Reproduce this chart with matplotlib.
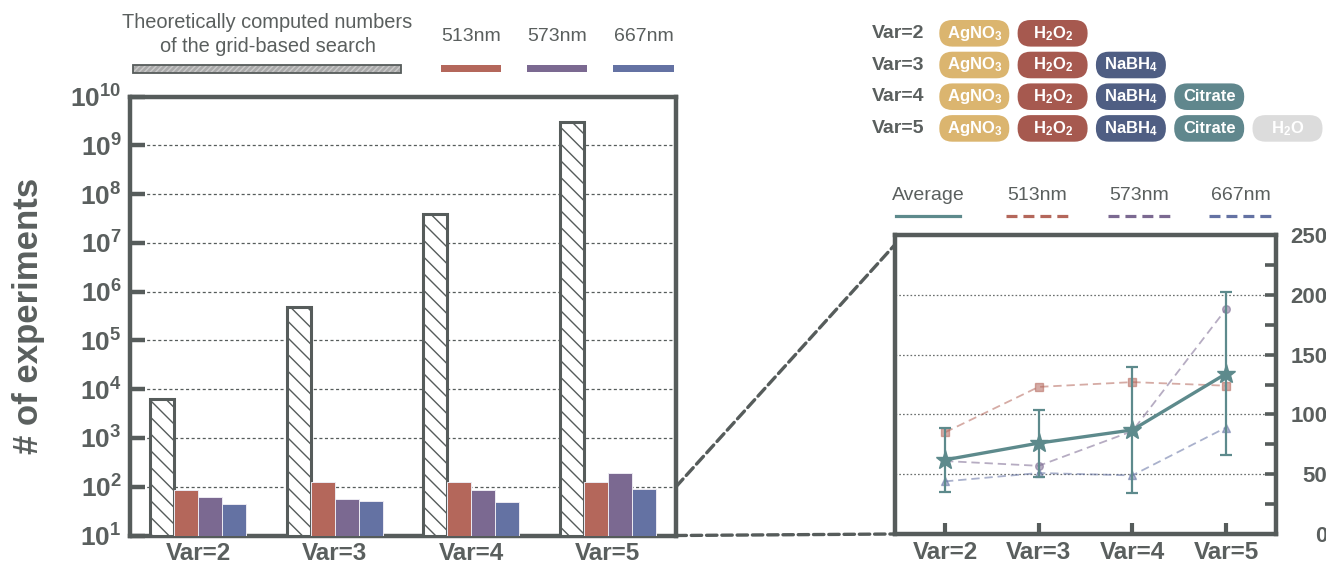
import numpy as np
import matplotlib
matplotlib.use("Agg")
import matplotlib.pyplot as plt
from matplotlib.patches import FancyBboxPatch, Rectangle, ConnectionPatch
from matplotlib.lines import Line2D
from matplotlib.ticker import FixedLocator, FuncFormatter, NullLocator

plt.rcParams['font.family'] = ['Liberation Sans', 'DejaVu Sans']
plt.rcParams['mathtext.fontset'] = 'custom'
plt.rcParams['mathtext.rm'] = 'Liberation Sans'
plt.rcParams['mathtext.bf'] = 'Liberation Sans:bold'
plt.rcParams['mathtext.it'] = 'Liberation Sans:italic'
plt.rcParams['mathtext.default'] = 'regular'
plt.rcParams['hatch.linewidth'] = 1.0
plt.rcParams['lines.scale_dashes'] = False

# ---------------- data ----------------
categories = ['Var=2', 'Var=3', 'Var=4', 'Var=5']
grid_search = [6241, 493039, 38950081, 3077056399]
wl_labels = ['513nm', '573nm', '667nm']
exp_513 = [85, 123, 127, 124]
exp_573 = [61, 57, 86, 188]
exp_667 = [44, 51, 49, 89]
avg = [62, 76, 87, 134]
avg_err = [27, 28, 53, 68]
reagents = ['AgNO$_3$', 'H$_2$O$_2$', 'NaBH$_4$', 'Citrate', 'H$_2$O']
n_reagents = [2, 3, 4, 5]

# ---------------- style ----------------
DARK = '#565c5b'
TEXT = '#5a5f5e'
C513 = '#b4675b'
C573 = '#7b6991'
C667 = '#6472a3'
CAVG = '#5d8a8c'
GS_FACE = '#a9a9a9'
REAGENT_COLORS = ['#dbb56f', '#a6594f', '#4f5e83', '#60878d', '#dcdcdc']
WL_COLORS = [C513, C573, C667]

W, H = 1326, 571
fig = plt.figure(figsize=(W / 100, H / 100), dpi=100)


def px_rect(x0, y0, x1, y1):
    """Pixel box (origin top-left) -> figure fraction [l, b, w, h]."""
    return [x0 / W, 1 - y1 / H, (x1 - x0) / W, (y1 - y0) / H]


ax = fig.add_axes(px_rect(130, 96.7, 676, 535.5))
axr = fig.add_axes(px_rect(895, 235, 1276, 534))

# ---------------- left panel: log-scale bars ----------------
x = np.arange(len(categories))
bw = 0.175
ax.bar(x - 1.5 * bw, grid_search, bw, bottom=10, facecolor='white',
       edgecolor=DARK, hatch='\\\\', lw=2.2, zorder=3)
for k, (vals, col) in enumerate(zip([exp_513, exp_573, exp_667], WL_COLORS)):
    ax.bar(x + (k - 0.5) * bw, np.array(vals) - 10, bw, bottom=10,
           color=col, edgecolor='#eceaf2', lw=0.7, zorder=3)

ax.set_yscale('log')
ax.set_ylim(10, 1e10)
ax.set_xlim(-0.5, 3.5)
ax.yaxis.set_major_locator(FixedLocator([10.0 ** k for k in range(1, 11)]))
ax.yaxis.set_minor_locator(NullLocator())
ax.yaxis.set_major_formatter(FuncFormatter(
    lambda v, p: r'$\mathbf{10^{%d}}$' % int(round(np.log10(v)))))
ax.tick_params(axis='y', which='major', direction='in', length=11, width=3.2,
               color=DARK, labelsize=19, pad=6, labelcolor=TEXT)
ax.set_xticks(x)
ax.set_xticklabels(categories, fontsize=17.5, fontweight='bold', color=TEXT)
ax.tick_params(axis='x', length=0, pad=5)
ax.yaxis.grid(True, which='major', ls=(0, (2.2, 1.8)), lw=0.9, color=DARK)
ax.set_axisbelow(True)
for s in ax.spines.values():
    s.set_linewidth(3.2)
    s.set_color(DARK)
ax.set_ylabel('# of experiments', fontsize=25, fontweight='bold', color=TEXT)
ax.yaxis.set_label_coords(-0.155, 0.5)

# ---------------- right panel: zoomed linear view ----------------
series = [(exp_513, C513, 's'), (exp_573, C573, 'o'), (exp_667, C667, '^')]
for vals, col, mk in series:
    axr.plot(x, vals, ls=(0, (6, 3.5)), lw=1.3, color=col, alpha=0.55,
             marker=mk, ms=5.5, zorder=3)
axr.errorbar(x, avg, yerr=avg_err, color=CAVG, lw=2.4, marker='*', ms=14,
             capsize=4, elinewidth=1.6, capthick=1.6, zorder=5)

axr.set_xlim(-0.534, 3.534)
axr.set_ylim(0, 250)
axr.set_xticks(x)
axr.set_xticklabels(categories, fontsize=17.5, fontweight='bold', color=TEXT)
axr.tick_params(axis='x', direction='in', length=8, width=3, color=DARK, pad=5)
axr.yaxis.tick_right()
yt = [0, 50, 100, 150, 200, 250]
axr.set_yticks(yt)
axr.set_yticklabels([str(v) for v in yt], fontsize=16, fontweight='bold',
                    color=TEXT, ha='right')
axr.set_yticks([25, 75, 125, 175, 225], minor=True)
axr.tick_params(axis='y', which='both', direction='in', length=8, width=2.6,
                color=DARK, right=True, left=False, labelright=True,
                labelleft=False, pad=37)
for gy in [50, 100, 150, 200]:
    axr.axhline(gy, ls=(0, (1.2, 1.5)), lw=0.9, color='#6a6f6e', zorder=1)
for s in axr.spines.values():
    s.set_linewidth(3.2)
    s.set_color(DARK)

# ---------------- zoom connectors ----------------
for ya, yb in [(100, 242), (10, 0)]:
    con = ConnectionPatch(xyA=(1.0, ya), coordsA=ax.get_yaxis_transform(),
                          xyB=(0.0, yb), coordsB=axr.get_yaxis_transform(),
                          color=DARK, lw=2.4, ls=(0, (7.5, 3.5)))
    fig.add_artist(con)

# ---------------- overlay: legends and reagent key ----------------
ov = fig.add_axes([0, 0, 1, 1])
ov.set_xlim(0, W)
ov.set_ylim(H, 0)
ov.axis('off')

ov.text(267.5, 22, 'Theoretically computed numbers', ha='center', va='center',
        fontsize=14.4, color=TEXT)
ov.text(267.5, 47, 'of the grid-based search', ha='center', va='center',
        fontsize=14.4, color=TEXT)
ov.add_patch(Rectangle((133.3, 65), 267.4, 7.7, facecolor=GS_FACE,
                       edgecolor='#c9c9c9', lw=0, hatch='//////'))
ov.add_patch(Rectangle((133.3, 65), 267.4, 7.7, facecolor='none',
                       edgecolor=DARK, lw=1.3))
for k, (lbl, col) in enumerate(zip(wl_labels, WL_COLORS)):
    x0 = 440.7 + k * 86.3
    ov.add_patch(Rectangle((x0, 65), 60.3, 7.3, color=col, lw=0))
    ov.text(x0 + 30.1, 36.7, lbl, ha='center', va='center', fontsize=14,
            color=TEXT)

# reagent key
for r, n in enumerate(n_reagents):
    yc = 33.3 + r * 31.7
    ov.text(872, yc, f'Var={n}', ha='left', va='center', fontsize=14,
            fontweight='bold', color=TEXT)
    for k in range(n):
        x0 = 939.3 + k * 78.3
        ov.add_patch(FancyBboxPatch((x0, yc - 13.3), 70, 26.6,
                                    boxstyle='round,pad=0,rounding_size=13',
                                    facecolor=REAGENT_COLORS[k], lw=0))
        ov.text(x0 + 35, yc, reagents[k], ha='center', va='center',
                fontsize=12, fontweight='bold', color='white')

# right-panel legend
leg_items = [('Average', CAVG, '-')] + list(zip(wl_labels, WL_COLORS, ['--'] * 3))
leg_cx = [928, 1037.5, 1139.5, 1241]
for (lbl, col, style), cx in zip(leg_items, leg_cx):
    ov.text(cx, 195, lbl, ha='center', va='center', fontsize=14, color=TEXT)
    ln = Line2D([cx - 32, cx + 32], [216, 216], color=col, lw=2.3)
    if style == '--':
        ln.set_linestyle((0, (7.9, 4.3)))
    ov.add_line(ln)

fig.savefig('out.png', dpi=100)
